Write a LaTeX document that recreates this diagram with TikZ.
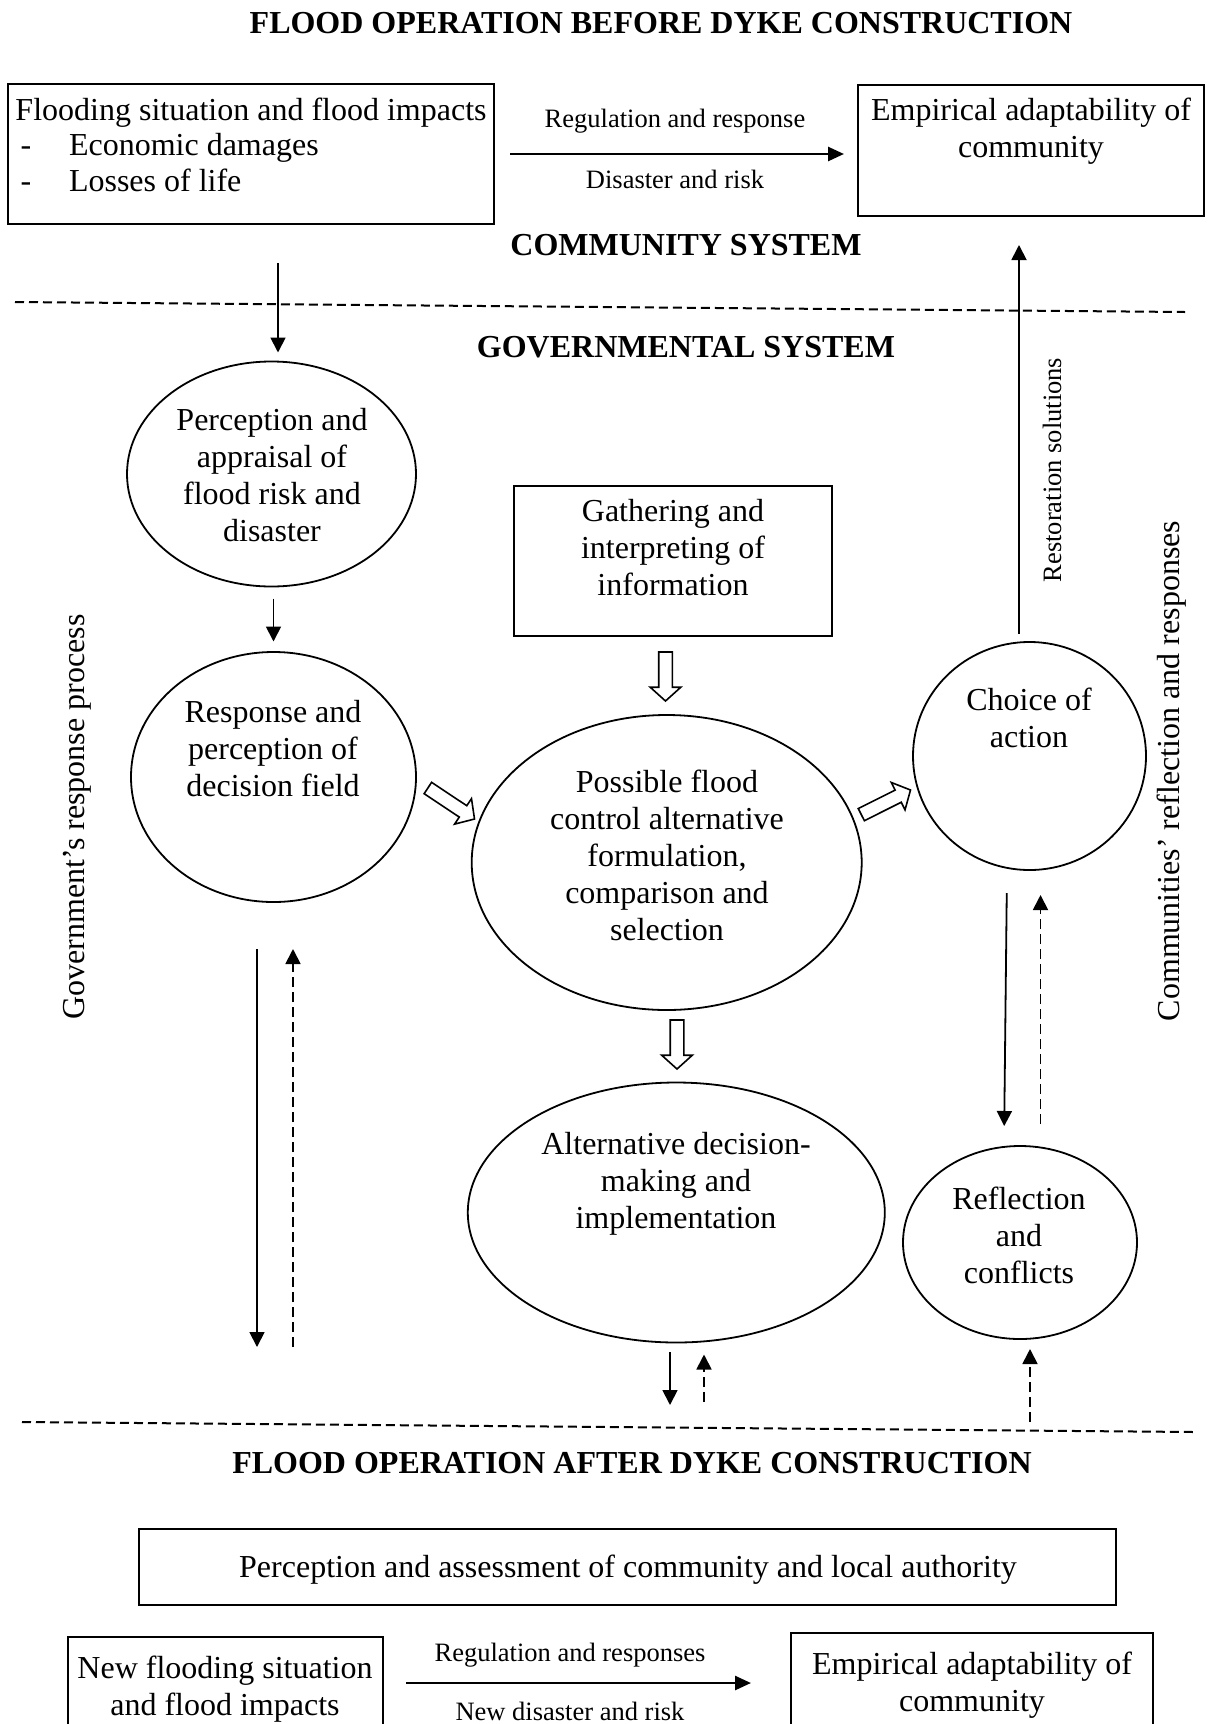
\documentclass[tikz,border=0pt]{standalone}
\usepackage{fontspec}
\setmainfont{Liberation Serif}
\usetikzlibrary{shapes.geometric,shapes.arrows,arrows.meta,calc}

\begin{document}
\begin{tikzpicture}[x=1pt,y=-1pt,
  every node/.style={inner sep=0pt, outer sep=0pt},
  txt/.style={font=\fontsize{32}{37}\selectfont, align=center},
  lbl/.style={font=\fontsize{26.5}{30}\selectfont},
  hdr/.style={font=\fontsize{32}{37}\selectfont\bfseries},
  rectbox/.style={draw, line width=2pt, rectangle},
  ovalnode/.style={draw, line width=1.8pt, ellipse},
  arr/.style={line width=1.8pt, -{Triangle[length=15pt,width=15pt]}},
  darr/.style={arr, dash pattern=on 10pt off 5pt},
  harr/.style={line width=2.6pt, -{Triangle[length=16pt,width=14pt]}},
  sepline/.style={line width=2pt, dash pattern=on 9pt off 5pt},
  hollow/.style={single arrow, draw, line width=1.6pt, fill=white,
    minimum width=0pt, inner xsep=0pt, inner ysep=6pt,
    single arrow head extend=8.5pt, single arrow tip angle=96, anchor=tip}
]
\useasboundingbox (0,0) rectangle (1208,1724);
\clip (0,0) rectangle (1208,1724);

% ---------- before dyke construction ----------
\node[hdr] (title1) at (661,23) {FLOOD OPERATION BEFORE DYKE CONSTRUCTION};

\node[rectbox, minimum width=486pt, minimum height=140pt] (b1) at (251,154) {};
\node[txt, anchor=base west] (b1a) at (15.5,120) {Flooding situation and flood impacts};
\node[txt, anchor=base] (b1d1) at (26,155.5) {-};
\node[txt, anchor=base west] (b1b) at (69,155.5) {Economic damages};
\node[txt, anchor=base] (b1d2) at (26,191.5) {-};
\node[txt, anchor=base west] (b1c) at (69,191.5) {Losses of life};

\node[rectbox, minimum width=346pt, minimum height=131pt] (b2) at (1030.5,150.5) {};
\node[txt] (b2t) at (1031,131) {Empirical adaptability of\\community};

\draw[harr, shorten <=16pt, shorten >=13.5pt] (b1.east) -- (b1.east -| b2.west);
\node[lbl] (reg1) at (675,121) {Regulation and response};
\node[lbl] (dis1) at (675,179) {Disaster and risk};

\node[hdr] (cs) at (686,245) {COMMUNITY SYSTEM};
\draw[sepline] (15,302) -- (1185,312);
\node[hdr] (gs) at (686,347) {GOVERNMENTAL SYSTEM};

% ---------- governmental process ----------
\node[ovalnode, minimum width=289pt, minimum height=225pt] (e1) at (271.5,474) {};
\node[txt] (e1t) at (272,475) {Perception and\\appraisal of\\flood risk and\\disaster};

\node[ovalnode, minimum width=285pt, minimum height=250pt] (e2) at (273.5,777) {};
\node[txt] (e2t) at (273,749) {Response and\\perception of\\decision field};

\node[rectbox, minimum width=318pt, minimum height=150pt] (g) at (673,561) {};
\node[txt] (gt) at (673,548) {Gathering and\\interpreting of\\information};

\node[ovalnode, minimum width=390pt, minimum height=295pt] (ec) at (666.7,862.5) {};
\node[txt] (ect) at (667,855.5) {Possible flood\\control alternative\\formulation,\\comparison and\\selection};

\node[ovalnode, minimum width=233pt, minimum height=228pt] (ch) at (1029.5,756) {};
\node[txt] (cht) at (1029,718) {Choice of\\action};

\node[ovalnode, minimum width=417pt, minimum height=260pt] (alt) at (676.3,1212.5) {};
\node[txt] (altt) at (676,1184) {Alternative decision-\\making and\\implementation};

\node[ovalnode, minimum width=234pt, minimum height=193pt] (rf) at (1020,1242.5) {};
\node[txt] (rft) at (1019,1235) {Reflection\\and\\conflicts};

% side captions
\node[txt, rotate=90] (gov) at (77,817) {Government’s response process};
\node[txt, rotate=90] (com) at (1172,771) {Communities’ reflection and responses};
\node[lbl, rotate=90] (res) at (1052,470) {Restoration solutions};

% block arrows
\node[hollow, rotate=-90, minimum height=49pt] (h1) at (665.5,701) {};
\node[hollow, rotate=-90, minimum height=49pt] (h2) at (677,1069) {};
\node[hollow, rotate=-33.6, minimum height=56pt] (h3) at (474.5,819) {};
\node[hollow, rotate=26.6, minimum height=55pt] (h4) at (910.5,790) {};

% line arrows
\coordinate (xa) at (278,0);
\draw[arr, shorten <=39pt, shorten >=9pt] (b1.south -| xa) -- (e1.north -| xa);
\coordinate (xb) at (273.5,0);
\draw[arr, shorten <=12pt, shorten >=10.5pt] (e1.south -| xb) -- (e2.north -| xb);
\coordinate (xc) at (1019,0);
\draw[arr, shorten <=8.4pt, shorten >=29pt] (ch.north -| xc) -- (b2.south -| xc);

\coordinate (gl1) at (257,1347);
\draw[arr, shorten <=47pt] (e2.south -| gl1) -- (gl1);
\coordinate (gl2) at (293,1347);
\draw[darr, shorten >=47pt] (gl2) -- (e2.south -| gl2);

\coordinate (as1) at (670,1405);
\draw[arr, shorten <=9.5pt] (alt.south -| as1) -- (as1);
\coordinate (as2) at (704,1402);
\draw[darr, shorten >=12pt] (as2) -- (alt.south -| as2);

\coordinate (xd1) at (1007,0);
\coordinate (xd2) at (1004,0);
\draw[arr, shorten <=23pt, shorten >=20pt] (ch.south -| xd1) -- (rf.north -| xd2);
\coordinate (xe) at (1040.5,0);
\draw[darr, shorten <=22pt, shorten >=25pt] (rf.north -| xe) -- (ch.south -| xe);

\coordinate (rb) at (1030,1422);
\draw[darr, shorten >=10pt] (rb) -- (rf.south -| rb);

\draw[sepline] (22,1422) -- (1194,1432);

% ---------- after dyke construction ----------
\node[hdr] (title2) at (632,1463) {FLOOD OPERATION AFTER DYKE CONSTRUCTION};

\node[rectbox, minimum width=977pt, minimum height=76pt] (pa) at (627.5,1567) {};
\node[txt] (pat) at (628,1570) {Perception and assessment of community and local authority};

\node[rectbox, minimum width=315pt, minimum height=140pt] (nb1) at (225.5,1707) {};
\node[txt] (nb1t) at (225,1689) {New flooding situation\\and flood impacts};

\node[rectbox, minimum width=362pt, minimum height=140pt] (nb2) at (972,1703) {};
\node[txt] (nb2t) at (972,1685) {Empirical adaptability of\\community};

\coordinate (yb) at (0,1683);
\draw[harr, shorten <=23pt, shorten >=40pt] (nb1.east |- yb) -- (nb2.west |- yb);
\node[lbl] (reg2) at (570,1655) {Regulation and responses};
\node[lbl] (dis2) at (570,1711) {New disaster and risk};
\end{tikzpicture}
\end{document}
